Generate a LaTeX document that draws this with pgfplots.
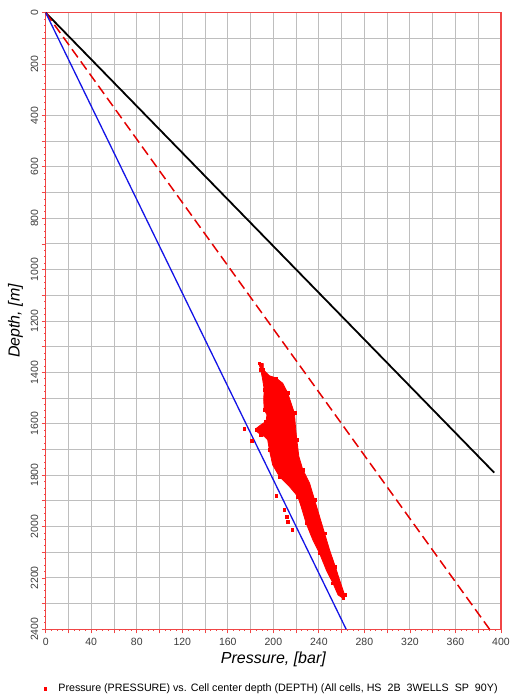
\documentclass[border=0pt]{standalone}
\usepackage{pgfplots}
\pgfplotsset{compat=1.18}
\usepackage{fontspec}
\setmainfont{Liberation Sans}
\definecolor{gridgray}{RGB}{190,190,190}
\definecolor{axred}{RGB}{240,70,70}
\definecolor{ptred}{RGB}{255,0,0}
\definecolor{lblue}{RGB}{20,20,230}
\definecolor{tickgray}{RGB}{60,60,60}
\begin{document}
\begin{tikzpicture}
\begin{axis}[
  scale only axis,
  width=455.3pt, height=616.6pt,
  xmin=0, xmax=400, ymin=0, ymax=2400,
  y dir=reverse,
  xtick={0,20,...,400},
  xticklabels={0,,40,,80,,120,,160,,200,,240,,280,,320,,360,,400},
  ytick={0,100,...,2400},
  yticklabels={0,,200,,400,,600,,800,,1000,,1200,,1400,,1600,,1800,,2000,,2200,,2400},
  minor x tick num=3, minor y tick num=3,
  grid=major,
  major grid style={gridgray, line width=0.9pt},
  axis line style={axred, line width=1.1pt},
  every tick/.style={axred, line width=0.8pt},
  tick align=outside,
  major tick length=4pt,
  minor tick length=1.6pt,
  minor tick style={axred, line width=0.9pt},
  tick pos=left,
  ticklabel style={font=\fontsize{10.5}{12}\selectfont, text=tickgray},
  xticklabel style={yshift=-1pt},
  yticklabel style={rotate=90, anchor=south, xshift=0pt},
  xlabel={\itshape Pressure, [bar]},
  ylabel={\itshape Depth, [m]},
  xlabel style={font=\fontsize{16}{19}\selectfont, yshift=0pt},
  ylabel style={font=\fontsize{16}{19}\selectfont, yshift=1pt},
  legend style={at={(axis description cs:-0.0044,-0.0965)}, anchor=west, draw=none, fill=none,
    font=\fontsize{10.7}{12}\selectfont, inner sep=0pt},
  legend cell align=left,
]
% lines
\addplot[black, line width=1.8pt, forget plot] coordinates {(0,0) (394,1790)};
\addplot[ptred!90!black, line width=1.5pt, dash pattern=on 10pt off 5pt, forget plot] coordinates {(0,0) (390,2400)};
\addplot[lblue, line width=1.3pt, forget plot] coordinates {(0,0) (264,2400)};
% scatter cloud (dense region)
\addplot[fill=ptred, draw=ptred, line width=0.8pt, forget plot] coordinates {
(187.6,1364) (191.2,1366) (191.2,1390) (196.5,1413) (202.4,1422) (208.2,1442)
(212.6,1480) (215.6,1520) (218.5,1558) (219.4,1610) (220.6,1662) (222.4,1727)
(225.9,1779) (231.8,1831) (236.2,1896) (240.6,1961) (245.0,2026) (249.4,2091)
(254.4,2156) (258.2,2208) (262.6,2266) (261.2,2279) (256.8,2266) (252.4,2221)
(246.5,2169) (240.6,2104) (234.7,2052) (228.8,1987) (224.4,1922) (221.5,1883)
(214.1,1844) (205.3,1805) (199.4,1760) (196.5,1701) (195.0,1662) (192.0,1649)
(189.1,1643) (185.3,1630) (185.3,1617) (189.1,1604) (193.5,1591) (194.4,1565)
(192.0,1545) (191.5,1506) (192.0,1467) (190.6,1428) (189.0,1390) (187.6,1370)
} -- cycle;
\addplot[only marks, mark=square*, mark size=1.3pt, ptred, forget plot] coordinates {
(187.6,1364) (191.2,1390) (202.4,1422) (212.6,1480) (218.5,1558) (220.6,1662)
(225.9,1779) (236.2,1896) (245.0,2026) (254.4,2156) (262.6,2266) (261.2,2279)
(252.4,2221) (240.6,2104) (228.8,1987) (221.5,1883) (205.3,1805) (196.5,1701)
(189.1,1643) (185.3,1624) (193.5,1591) (192.0,1545) (192.0,1467) (189.0,1390)
(174.4,1620) (180.9,1665) (202.4,1879) (209.7,1935) (211.8,1961) (212.6,1980) (216.5,2013)
};
\addlegendimage{legend image code/.code={\fill[ptred] (-1.3pt,-1.3pt) rectangle (1.3pt,1.3pt); \path[draw=none,fill=none] (-1.3pt,0pt) -- (11pt,0pt);}}
\addlegendentry{Pressure (PRESSURE) vs. Cell center depth (DEPTH) (All cells, HS\ \ 2B\ \ 3WELLS\ \ SP\ \ 90Y)}
\end{axis}
\pgfresetboundingbox
\path (current axis.south west) ++(-45.7pt,-69.7pt) rectangle ([xshift=10pt,yshift=12.7pt]current axis.north east);
\end{tikzpicture}
\end{document}
